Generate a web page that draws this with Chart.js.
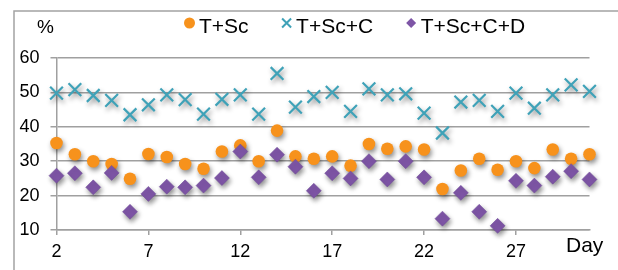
<!DOCTYPE html>
<html lang="en">
<head>
  <meta charset="UTF-8" />
  <title>Daily percentages</title>
  <style>
    html, body { margin: 0; padding: 0; background: #fff; }
    #wrap { width: 618px; height: 270px; }
  </style>
</head>
<body>
  <div id="wrap"><canvas id="chartCanvas" width="618" height="270"></canvas></div>

  <script src="https://cdn.jsdelivr.net/npm/chart.js"></script>
  <script>
    // values, one per day (2..31)
    const days = [2, 3, 4, 5, 6, 7, 8, 9, 10, 11, 12, 13, 14, 15, 16,
                  17, 18, 19, 20, 21, 22, 23, 24, 25, 26, 27, 28, 29, 30, 31];
    const tSc = [35.3, 32, 30, 29.2, 24.9, 32.1, 31.2, 29.2, 27.8, 32.8, 34.6, 30, 38.9, 31.4, 30.7,
                 31.4, 28.7, 35, 33.6, 34.3, 33.4, 21.9, 27.3, 30.7, 27.5, 30, 28, 33.4, 30.7, 32];
    const tScC = [49.8, 50.8, 49.1, 47.7, 43.5, 46.4, 49.3, 47.9, 43.7, 48, 49.3, 43.7, 55.5, 45.7, 48.8,
                  50, 44.5, 51, 49.3, 49.6, 44, 38.2, 47.2, 47.7, 44.5, 49.8, 45.4, 49.3, 52.2, 50.3];
    const tScCD = [25.8, 26.5, 22.4, 26.6, 15.3, 20.5, 22.6, 22.4, 22.9, 25.1, 32.8, 25.3, 31.9, 28.4, 21.4,
                   26.5, 25, 30, 24.7, 30, 25.3, 13.3, 20.8, 15.3, 11.2, 24.3, 22.9, 25.5, 27.1, 24.7];
    const seriesNames = ['T+Sc', 'T+Sc+C', 'T+Sc+C+D'];
    const xTicks = [2, 7, 12, 17, 22, 27];
    const yTicks = [10, 20, 30, 40, 50, 60];

    const FONT = '"Liberation Sans", Arial, sans-serif';
    const GRID = '#a0a0a0';
    const ORANGE = '#f7921c';
    const TEAL = '#3fa2b8';
    const PURPLE = '#7e55a6';

    const toPoints = vals => days.map((d, i) => ({ x: d, y: vals[i] }));

    // soft drop shadow under the markers
    const markerShadow = {
      id: 'markerShadow',
      beforeDatasetsDraw(chart) {
        const c = chart.ctx;
        c.save();
        c.shadowColor = 'rgba(0,0,0,0.45)';
        c.shadowBlur = 5;
        c.shadowOffsetX = 1.5;
        c.shadowOffsetY = 3;
      },
      afterDatasetsDraw(chart) {
        chart.ctx.restore();
      }
    };

    function drawMarker(c, style, x, y) {
      c.beginPath();
      if (style === 'circle') {
        c.fillStyle = ORANGE;
        c.arc(x, y, 5.5, 0, Math.PI * 2);
        c.fill();
      } else if (style === 'cross') {
        c.strokeStyle = TEAL;
        c.lineWidth = 2;
        c.moveTo(x - 4.5, y - 4.5); c.lineTo(x + 4.5, y + 4.5);
        c.moveTo(x + 4.5, y - 4.5); c.lineTo(x - 4.5, y + 4.5);
        c.stroke();
      } else {
        c.fillStyle = PURPLE;
        c.moveTo(x, y - 5); c.lineTo(x + 5, y); c.lineTo(x, y + 5); c.lineTo(x - 5, y);
        c.closePath();
        c.fill();
      }
    }

    // frame, legend, axis captions
    const decorations = {
      id: 'decorations',
      beforeDraw(chart) {
        const c = chart.ctx;
        c.save();
        c.strokeStyle = '#a3a3a3';
        c.lineWidth = 1.5;
        c.beginPath();
        c.moveTo(14, 275);
        c.lineTo(14, 11);
        c.lineTo(625, 11);
        c.stroke();
        c.restore();
      },
      afterDraw(chart) {
        const c = chart.ctx;
        c.save();
        c.fillStyle = '#000';
        c.textBaseline = 'alphabetic';
        c.font = '19px ' + FONT;
        c.textAlign = 'center';
        c.fillText('%', 45.5, 33);
        c.font = '21px ' + FONT;
        c.textAlign = 'left';
        c.fillText('Day', 566, 252);

        const styles = ['circle', 'cross', 'rectRot'];
        let x = 189.5;
        seriesNames.forEach((name, i) => {
          drawMarker(c, styles[i], x, 23);
          c.fillStyle = '#000';
          c.font = '21px ' + FONT;
          c.fillText(name, x + 9.5, 33.3);
          x += 9.5 + c.measureText(name).width + 38;
        });
        c.restore();
      }
    };

    new Chart(document.getElementById('chartCanvas'), {
      type: 'scatter',
      data: {
        datasets: [
          {
            label: seriesNames[0],
            data: toPoints(tSc),
            pointStyle: 'circle',
            pointRadius: 6.3,
            backgroundColor: ORANGE,
            borderColor: ORANGE,
            borderWidth: 0,
            order: 1,
            clip: false
          },
          {
            label: seriesNames[1],
            data: toPoints(tScC),
            pointStyle: 'crossRot',
            pointRadius: 9,
            borderColor: TEAL,
            borderWidth: 2.2,
            order: 2,
            clip: false
          },
          {
            label: seriesNames[2],
            data: toPoints(tScCD),
            pointStyle: 'rectRot',
            pointRadius: 7.5,
            backgroundColor: PURPLE,
            borderColor: '#6f4a98',
            borderWidth: 0.5,
            order: 0,
            clip: false
          }
        ]
      },
      options: {
        responsive: false,
        animation: false,
        devicePixelRatio: 1,
        layout: { padding: { left: 14, top: 58, right: 28.5, bottom: 0 } },
        plugins: {
          legend: { display: false },
          tooltip: { enabled: false }
        },
        scales: {
          x: {
            type: 'linear',
            min: 2,
            max: 31,
            afterBuildTicks: s => { s.ticks = xTicks.map(v => ({ value: v })); },
            afterFit: s => { s.height = 40; },
            ticks: {
              font: { family: FONT, size: 18 },
              color: '#000',
              padding: 6,
              maxRotation: 0,
              autoSkip: false
            },
            grid: { drawOnChartArea: false, drawTicks: true, tickLength: 5, color: GRID, lineWidth: 1.5 },
            border: { display: true, color: GRID, width: 1.5 }
          },
          y: {
            min: 10,
            max: 60,
            afterBuildTicks: s => { s.ticks = yTicks.map(v => ({ value: v })); },
            afterFit: s => { s.width = 42.5; },
            ticks: {
              font: { family: FONT, size: 18 },
              color: '#000',
              padding: 11
            },
            grid: { color: GRID, tickLength: 6, lineWidth: 1.5 },
            border: { display: true, color: GRID, width: 1.5 }
          }
        }
      },
      plugins: [markerShadow, decorations]
    });
  </script>
</body>
</html>
